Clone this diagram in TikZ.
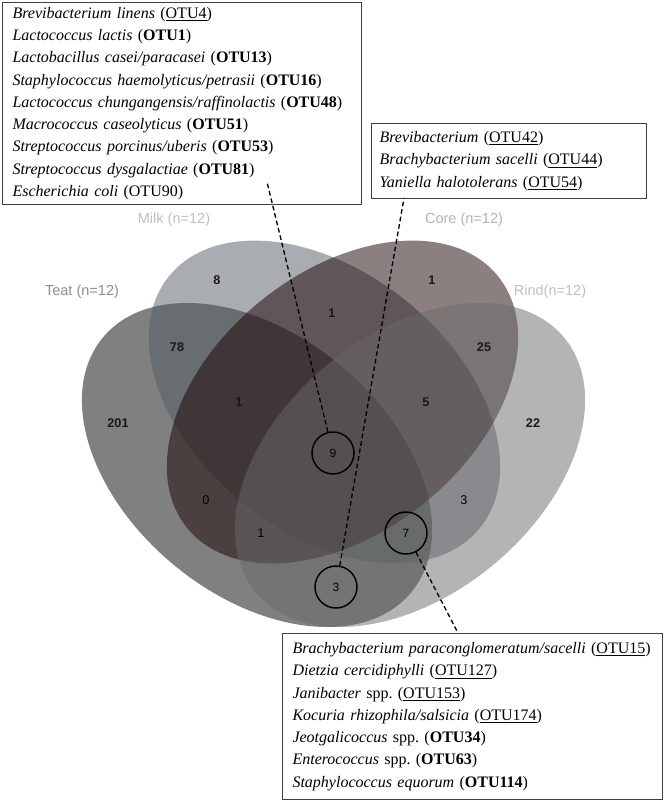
\documentclass[tikz,border=0pt]{standalone}
\usepackage{fontspec}
\setmainfont{Liberation Serif}
\setsansfont{Liberation Sans}
\usepackage{tikz}

\definecolor{teatcol}{RGB}{1,1,1}
\definecolor{milkcol}{RGB}{83,91,99}
\definecolor{corecol}{RGB}{25,0,2}
\definecolor{rindcol}{RGB}{105,105,105}

\begin{document}
\begin{tikzpicture}[x=0.75pt, y=-0.75pt,
	vset/.style={fill opacity=0.5},
	vnum/.style={font=\sffamily\fontsize{9.5}{11}\selectfont, text=black},
	vbig/.style={font=\sffamily\bfseries\fontsize{9.5}{11}\selectfont, text=black!90},
	setlab/.style={font=\sffamily\fontsize{10.9}{12}\selectfont},
	otucirc/.style={circle, draw, line width=1.1pt, minimum size=31.5pt, inner sep=0pt, font=\sffamily\fontsize{9}{10}\selectfont},
	otubox/.style={draw=black!75, line width=0.8pt, fill=white, anchor=north west, align=left, inner ysep=0pt, font=\fontsize{12}{16.7}\selectfont},
	link/.style={line width=1pt, dash pattern=on 3.5pt off 2.2pt}]
	\useasboundingbox (0,0) rectangle (666,802);
	% the four sets
	\fill[vset, teatcol, rotate around={-39.5:(257,465)}] (257,465) ellipse [x radius=200, y radius=130];
	\fill[vset, milkcol, rotate around={-39:(324.5,402)}] (324.5,402) ellipse [x radius=200, y radius=130];
	\fill[vset, corecol, rotate around={39:(342.5,402)}] (342.5,402) ellipse [x radius=200, y radius=130];
	\fill[vset, rindcol, rotate around={39.5:(410,465)}] (410,465) ellipse [x radius=200, y radius=130];
	% set names
	\node[setlab, text=black!45] (teatlab) at (82,292) {Teat (n=12)};
	\node[setlab, text=black!25] (milklab) at (174,220) {Milk (n=12)};
	\node[setlab, text=black!30] (corelab) at (464,220) {Core (n=12)};
	\node[setlab, text=black!25] (rindlab) at (550,292) {Rind(n=12)};
	% counts
	\node[vbig] (n8) at (217,280) {8};
	\node[vbig] (n1c) at (432,280) {1};
	\node[vbig] (n1mc) at (332,313) {1};
	\node[vbig] (n78) at (177,347) {78};
	\node[vbig] (n25) at (484,347) {25};
	\node[vbig] (n1tmc) at (239,402) {1};
	\node[vbig] (n5) at (426,402) {5};
	\node[vbig] (n201) at (118,423) {201};
	\node[vbig] (n22) at (533,423) {22};
	\node[vnum] (n0) at (206,500) {0};
	\node[vnum] (n3mr) at (464,500) {3};
	\node[vnum] (n1tcr) at (261,533) {1};
	\node[otucirc] (c9) at (333,453) {9};
	\node[otucirc] (c7) at (406,533) {7};
	\node[otucirc] (c3) at (336,587) {3};
	% OTU lists
	\node[otubox, text width=254.25pt, inner xsep=7.5pt, minimum height=151.5pt] (corebox) at (2,2) {%
		\textit{Brevibacterium linens} (\underline{OTU4})\\
		\textit{Lactococcus lactis} (\textbf{OTU1})\\
		\textit{Lactobacillus casei/paracasei} (\textbf{OTU13})\\
		\textit{Staphylococcus haemolyticus/petrasii} (\textbf{OTU16})\\
		\textit{Lactococcus chungangensis/raffinolactis} (\textbf{OTU48})\\
		\textit{Macrococcus caseolyticus} (\textbf{OTU51})\\
		\textit{Streptococcus porcinus/uberis} (\textbf{OTU53})\\
		\textit{Streptococcus dysgalactiae} (\textbf{OTU81})\\
		\textit{Escherichia coli} (OTU90)};
	\node[otubox, text width=194.25pt, inner xsep=6pt, minimum height=56.25pt] (rindbox) at (371,123) {%
		\textit{Brevibacterium} (\underline{OTU42})\\
		\textit{Brachybacterium sacelli} (\underline{OTU44})\\
		\textit{Yaniella halotolerans} (\underline{OTU54})};
	\node[otubox, text width=270pt, inner xsep=7.5pt, minimum height=124.5pt] (teatbox) at (282,633) {%
		\textit{Brachybacterium paraconglomeratum/sacelli} (\underline{OTU15})\\
		\textit{Dietzia cercidiphylli} (\underline{OTU127})\\
		\textit{Janibacter} spp.\ (\underline{OTU153})\\
		\textit{Kocuria rhizophila/salsicia} (\underline{OTU174})\\
		\textit{Jeotgalicoccus} spp.\ (\textbf{OTU34})\\
		\textit{Enterococcus} spp.\ (\textbf{OTU63})\\
		\textit{Staphylococcus equorum} (\textbf{OTU114})};
	% pointers
	\coordinate (tip9) at (267,182);
	\coordinate (tip3) at (404,198);
	\coordinate (tip7) at (458,633);
	\draw[link] (c9) -- (tip9);
	\draw[link] (c3) -- (tip3);
	\draw[link] (c7) -- (tip7);
\end{tikzpicture}
\end{document}
